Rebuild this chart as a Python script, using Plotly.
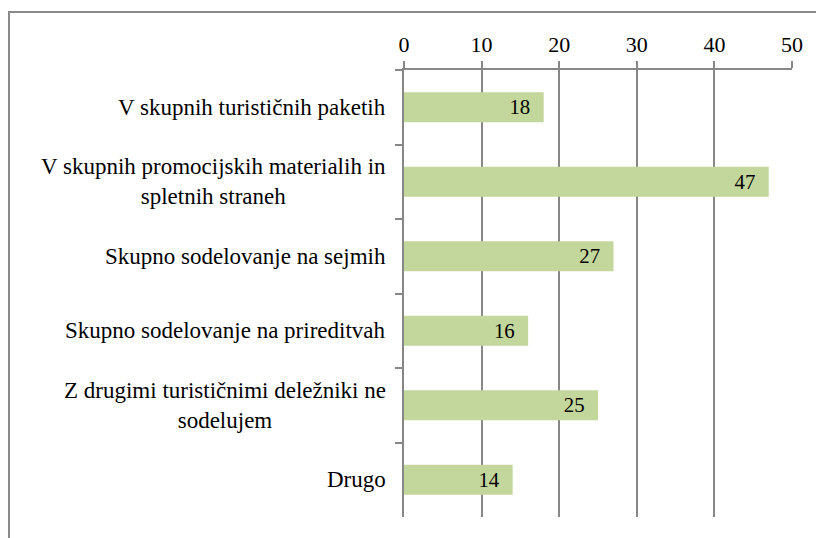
import plotly.graph_objects as go

categories = [
    "V skupnih turističnih paketih",
    "V skupnih promocijskih materialih in<br>spletnih straneh",
    "Skupno sodelovanje na sejmih",
    "Skupno sodelovanje na prireditvah",
    "Z drugimi turističnimi deležniki ne<br>sodelujem",
    "Drugo",
]
values = [18, 47, 27, 16, 25, 14]
x_ticks = [0, 10, 20, 30, 40, 50]

GRID = "#878787"
SERIF = "Liberation Serif"

fig = go.Figure(go.Bar(
    y=categories,
    x=values,
    orientation="h",
    marker=dict(color="#c3d69b", line=dict(width=0)),
    text=values,
    texttemplate="%{x}\u00a0\u00a0",
    textposition="inside",
    insidetextanchor="end",
    textfont=dict(family=SERIF, size=21, color="black"),
))

# category labels, centre-aligned like the original, placed on the category axis
for cat in categories:
    fig.add_annotation(
        x=(380 - 396) / 388, xref="paper", y=cat, yref="y",
        text=cat, showarrow=False, xanchor="right", yanchor="middle",
        align="center", font=dict(family=SERIF, size=23, color="black"),
    )

fig.update_layout(
    width=816, height=530,
    margin=dict(l=396, r=32, t=62, b=21),
    paper_bgcolor="white", plot_bgcolor="white",
    bargap=0.6,
    showlegend=False,
    xaxis=dict(
        side="top", range=[0, 50], tickvals=x_ticks,
        showgrid=True, gridcolor=GRID, gridwidth=1.5,
        showline=True, linecolor=GRID, linewidth=1.5,
        ticks="outside", ticklen=7, tickcolor=GRID, tickwidth=1.5,
        tickfont=dict(family="serif", size=22, color="black"),
        zeroline=False,
    ),
    yaxis=dict(
        autorange="reversed",
        showline=True, linecolor=GRID, linewidth=1.5,
        ticks="outside", ticklen=7, tickcolor=GRID, tickwidth=1.5,
        tickson="boundaries",
        showticklabels=False,
        showgrid=False,
    ),
    shapes=[dict(
        type="rect", xref="paper", yref="paper",
        x0=(1 - 396) / 388, x1=1.2, y0=-0.2, y1=(509 - 4) / 447,
        line=dict(color="#8a8a8a", width=2), fillcolor="rgba(0,0,0,0)",
        layer="below",
    )],
)

fig.write_html("out.html")
